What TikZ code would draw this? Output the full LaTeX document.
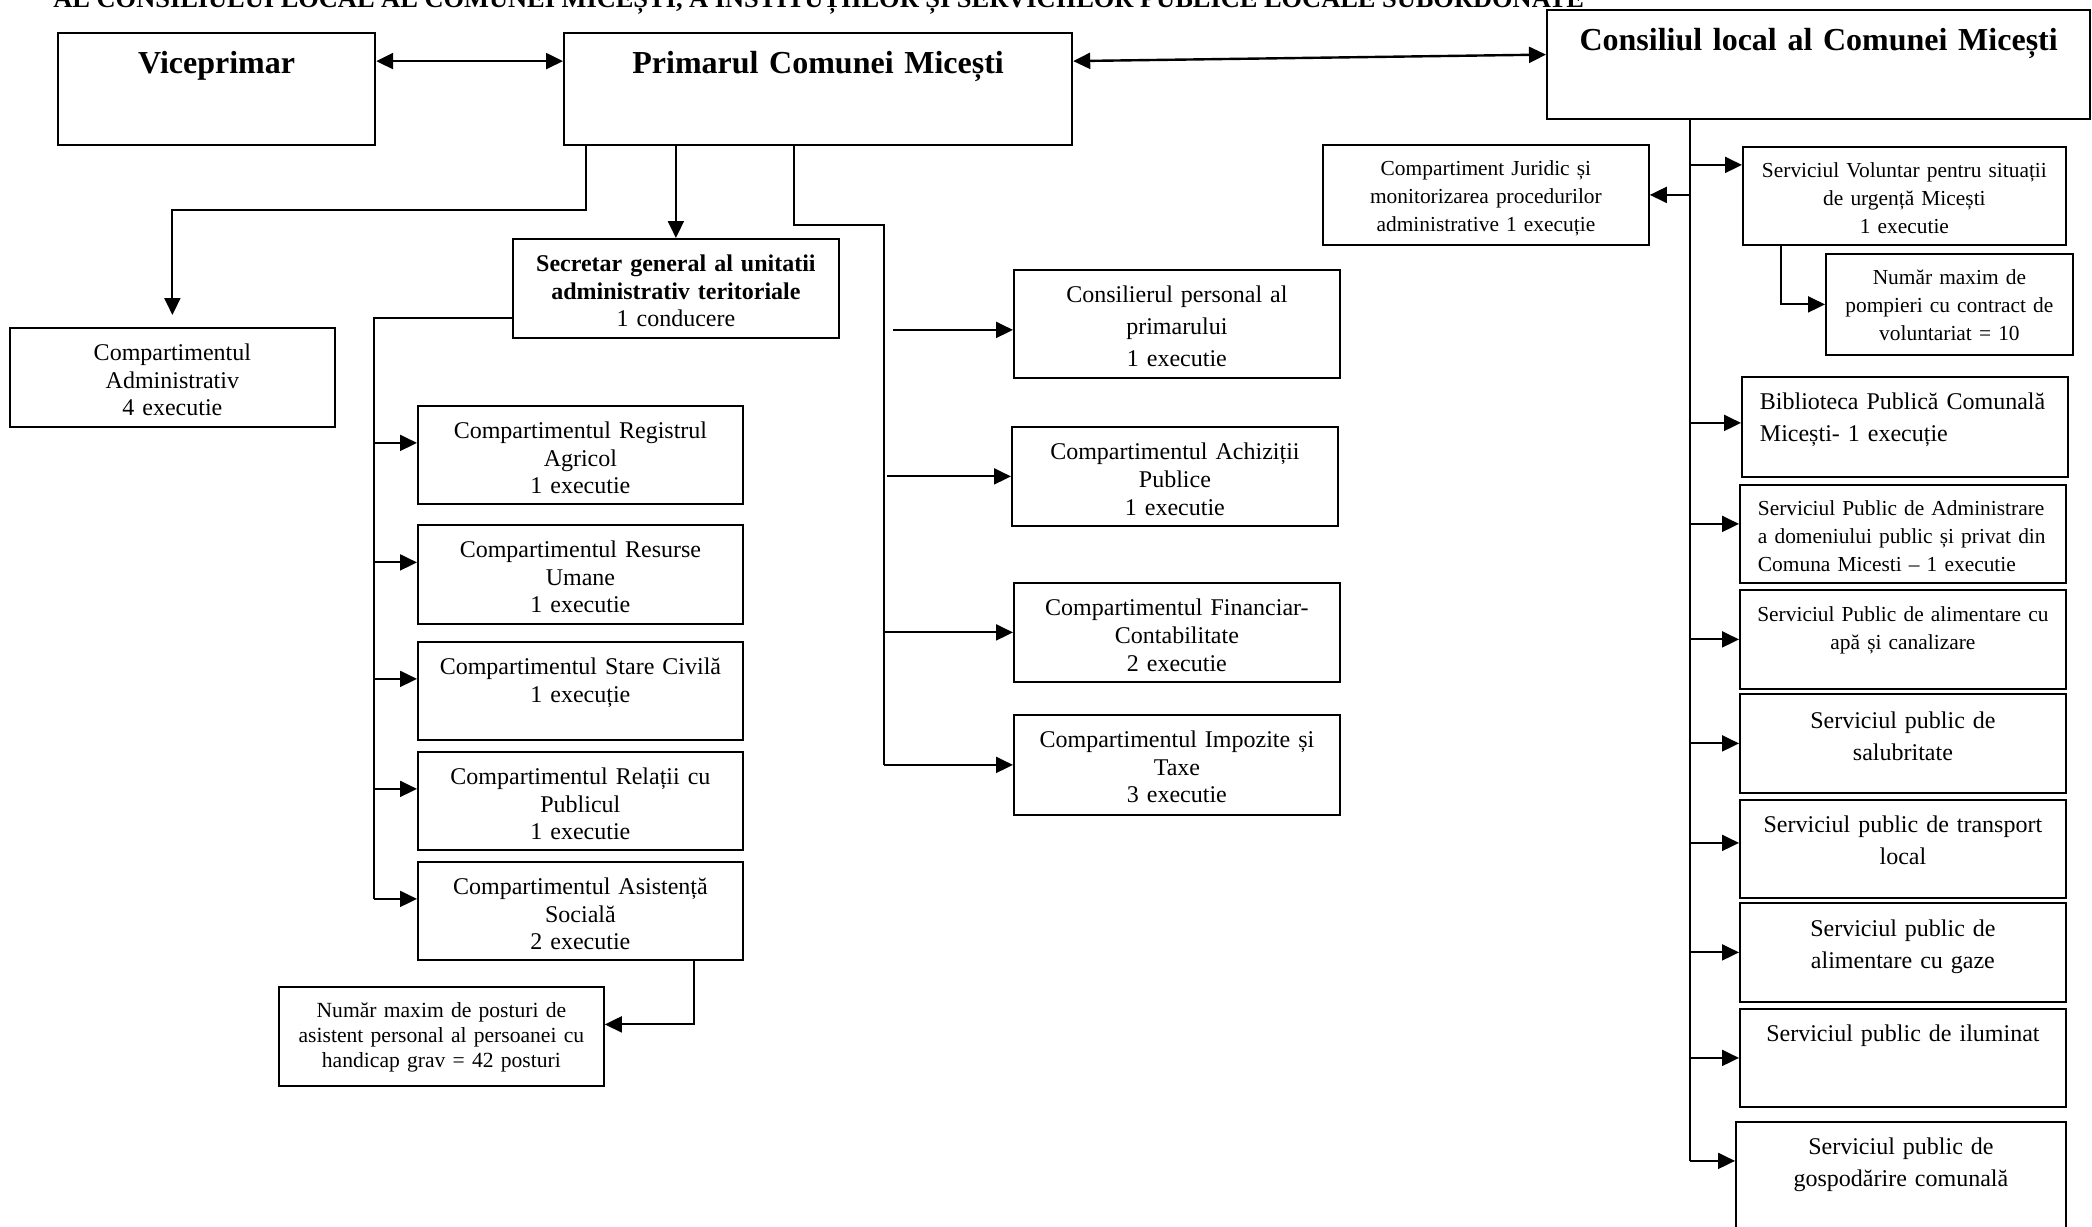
\documentclass[tikz,border=0pt]{standalone}
\usepackage{fontspec}
\setmainfont{Liberation Serif}
\usetikzlibrary{arrows.meta}

\begin{document}
\begin{tikzpicture}[x=1pt, y=1pt]

% Styles
        \tikzstyle{box}=[rectangle, draw, line width=0.9pt, anchor=north west, inner sep=0pt, align=center, font=\fontsize{12}{13.7}\selectfont, text height=16.5pt]
        \tikzstyle{smallbox}=[box, font=\fontsize{10.7}{14}\selectfont, text height=15.5pt]
        \tikzstyle{headbox}=[box, line width=1.1pt, font=\fontsize{16}{19}\selectfont\bfseries, text height=20pt]
        \tikzstyle{arrow}=[-{Triangle[length=8.5pt, width=8pt]}, line width=1pt]
        \tikzstyle{dblarrow}=[{Triangle[length=8.5pt, width=8pt]}-{Triangle[length=8.5pt, width=8pt]}, line width=1.2pt]
        \tikzstyle{link}=[line width=1pt]

% Page
        \useasboundingbox (0,0) rectangle (1046,-613);
        \clip (0,0) rectangle (1046,-613);

% Title (cut at the top)
        \node[anchor=base west, inner sep=0pt, font=\fontsize{13.2}{15}\selectfont\bfseries] (title) at (26.5,-3.5) {AL CONSILIULUI LOCAL AL COMUNEI MICEȘTI, A INSTITUȚIILOR ȘI SERVICIILOR PUBLICE LOCALE SUBORDONATE};

% Nodes
% Top row
        \node[headbox, text width=158.5pt, text depth=36pt] (vice) at (28.5,-16) {Viceprimar};
        \node[headbox, text width=254pt, text depth=36pt] (prim) at (281.5,-16) {Primarul Comunei Micești};
        \node[headbox, text width=271.5pt, text depth=34.5pt] (cons) at (773,-4.5) {Consiliul local al Comunei Micești};

% Under the mayor
        \node[box, text width=162.5pt, text depth=33pt] (adm) at (4.5,-163.5) {Compartimentul\\Administrativ\\4 executie};
        \node[box, text width=163pt, text depth=33pt] (secr) at (256,-119) {\textbf{Secretar general al unitatii}\\\textbf{administrativ teritoriale}\\1 conducere};

% Under the secretary
        \node[box, text width=162.5pt, text depth=32.5pt] (reg) at (208.5,-202.5) {Compartimentul Registrul\\Agricol\\1 executie};
        \node[box, text width=162.5pt, text depth=33pt] (res) at (208.5,-262) {Compartimentul Resurse\\Umane\\1 executie};
        \node[box, text width=162.5pt, text depth=32.5pt] (civ) at (208.5,-320.5) {Compartimentul Stare Civilă\\1 execuție};
        \node[box, text width=162.5pt, text depth=32.5pt] (rel) at (208.5,-375.5) {Compartimentul Relații cu\\Publicul\\1 executie};
        \node[box, text width=162.5pt, text depth=32.5pt] (asist) at (208.5,-430.5) {Compartimentul Asistență\\Socială\\2 executie};
        \node[smallbox, font=\fontsize{10.8}{12.5}\selectfont, text width=162.5pt, text depth=34pt] (post) at (139,-493) {Număr maxim de posturi de\\asistent personal al persoanei cu\\handicap grav = 42 posturi};

% Right of the mayor
        \node[box, font=\fontsize{12}{16}\selectfont, text width=163pt, text depth=37.5pt] (cpers) at (506.5,-134.5) {Consilierul personal al\\primarului\\ 1 executie};
        \node[box, font=\fontsize{12}{14}\selectfont, text width=163pt, text depth=33pt] (achiz) at (505.5,-213) {Compartimentul Achiziții\\Publice\\1 executie};
        \node[box, font=\fontsize{12}{14}\selectfont, text width=163pt, text depth=33pt] (fin) at (506.5,-291) {Compartimentul Financiar-\\Contabilitate\\2 executie};
        \node[box, text width=163pt, text depth=33.5pt] (imp) at (506.5,-357) {Compartimentul Impozite și\\Taxe\\3 executie};

% Under the council
        \node[smallbox, text width=163pt, text depth=34.5pt] (jur) at (661,-72) {Compartiment Juridic și\\monitorizarea procedurilor\\administrative 1 execuție};
        \node[smallbox, text width=161.5pt, text depth=33.5pt] (vol) at (871,-73) {Serviciul Voluntar pentru situații\\de urgență Micești\\1 executie};
        \node[smallbox, text width=123.5pt, text depth=35pt] (pomp) at (912.5,-126.5) {Număr maxim de\\pompieri cu contract de\\voluntariat = 10};
        \node[box, font=\fontsize{12}{16}\selectfont, align=left, inner xsep=9pt, text width=145pt, text depth=33.5pt] (bibl) at (870.5,-188) {Biblioteca Publică Comunală\\Micești- 1 execuție};
        \node[smallbox, align=left, inner xsep=9pt, text width=145pt, text depth=33.5pt] (sadm) at (869.5,-242) {Serviciul Public de Administrare\\a domeniului public și privat din\\Comuna Micesti – 1 executie};
        \node[smallbox, text width=163pt, text depth=33.5pt, text height=16pt] (apa) at (869.5,-294.5) {Serviciul Public de alimentare cu\\apă și canalizare};
        \node[box, font=\fontsize{12}{16}\selectfont, text width=163pt, text depth=32pt, text height=17.5pt] (salub) at (869.5,-346.5) {Serviciul public de\\salubritate};
        \node[box, font=\fontsize{12}{16}\selectfont, text width=163pt, text depth=32.5pt] (transp) at (869.5,-399.5) {Serviciul public de transport\\local};
        \node[box, font=\fontsize{12}{16}\selectfont, text width=163pt, text depth=32.5pt, text height=17pt] (gaze) at (869.5,-451) {Serviciul public de\\alimentare cu gaze};
        \node[box, font=\fontsize{12}{16}\selectfont, text width=163pt, text depth=32.5pt] (ilum) at (869.5,-504) {Serviciul public de iluminat};
        \node[box, font=\fontsize{12}{16}\selectfont, text width=165pt, text depth=43.5pt] (gosp) at (867.5,-560.5) {Serviciul public de\\gospodărire comunală};

% Connections
% Top row
        \draw[dblarrow] ([yshift=14pt]vice.east) -- ([yshift=14pt]prim.west);
        \draw[dblarrow] ([yshift=14pt]prim.east) -- ([yshift=5pt]cons.west);

% Mayor
        \draw[arrow] ([xshift=-116pt]prim.south) |- ([yshift=58.5pt]adm.north) -- ([yshift=6pt]adm.north);
        \draw[arrow] (prim.south -| secr.north) -- (secr.north);
        \coordinate (mbus) at (442,-112.5);
        \draw[link] ([xshift=-12pt]prim.south) |- (mbus) -- (mbus |- imp.west);
        \draw[arrow] ([xshift=-60pt, yshift=-3pt]cpers.west) -- ([yshift=-3pt]cpers.west);
        \draw[arrow] ([xshift=-62pt]achiz.west) -- (achiz.west);
        \draw[arrow] (mbus |- fin.west) -- (fin.west);
        \draw[arrow] (mbus |- imp.west) -- (imp.west);

% Secretary
        \coordinate (sbus) at ([xshift=-69pt, yshift=-14.75pt]secr.west);
        \draw[link] ([yshift=-14.75pt]secr.west) -- (sbus) -- ([yshift=6pt]sbus |- asist.west);
        \foreach \n in {reg,res,civ,rel,asist}
                \draw[arrow] ([yshift=6pt]sbus |- \n.west) -- ([yshift=6pt]\n.west);
        \draw[arrow] ([xshift=56.75pt]asist.south) |- ([yshift=6pt]post.east);

% Council
        \coordinate (cbus) at ([xshift=-64.25pt]cons.south);
        \draw[link] (cbus) -- ([yshift=10.5pt]cbus |- gosp.west);
        \draw[arrow] (cbus |- jur.east) -- (jur.east);
        \foreach \n/\dy in {vol/15.5, bibl/2, sadm/5, apa/0, salub/0, transp/3, gaze/0, ilum/0, gosp/10.5}
                \draw[arrow] ([yshift=\dy pt]cbus |- \n.west) -- ([yshift=\dy pt]\n.west);
        \draw[arrow] ([xshift=-61.75pt]vol.south) |- (pomp.west);

\end{tikzpicture}
\end{document}
